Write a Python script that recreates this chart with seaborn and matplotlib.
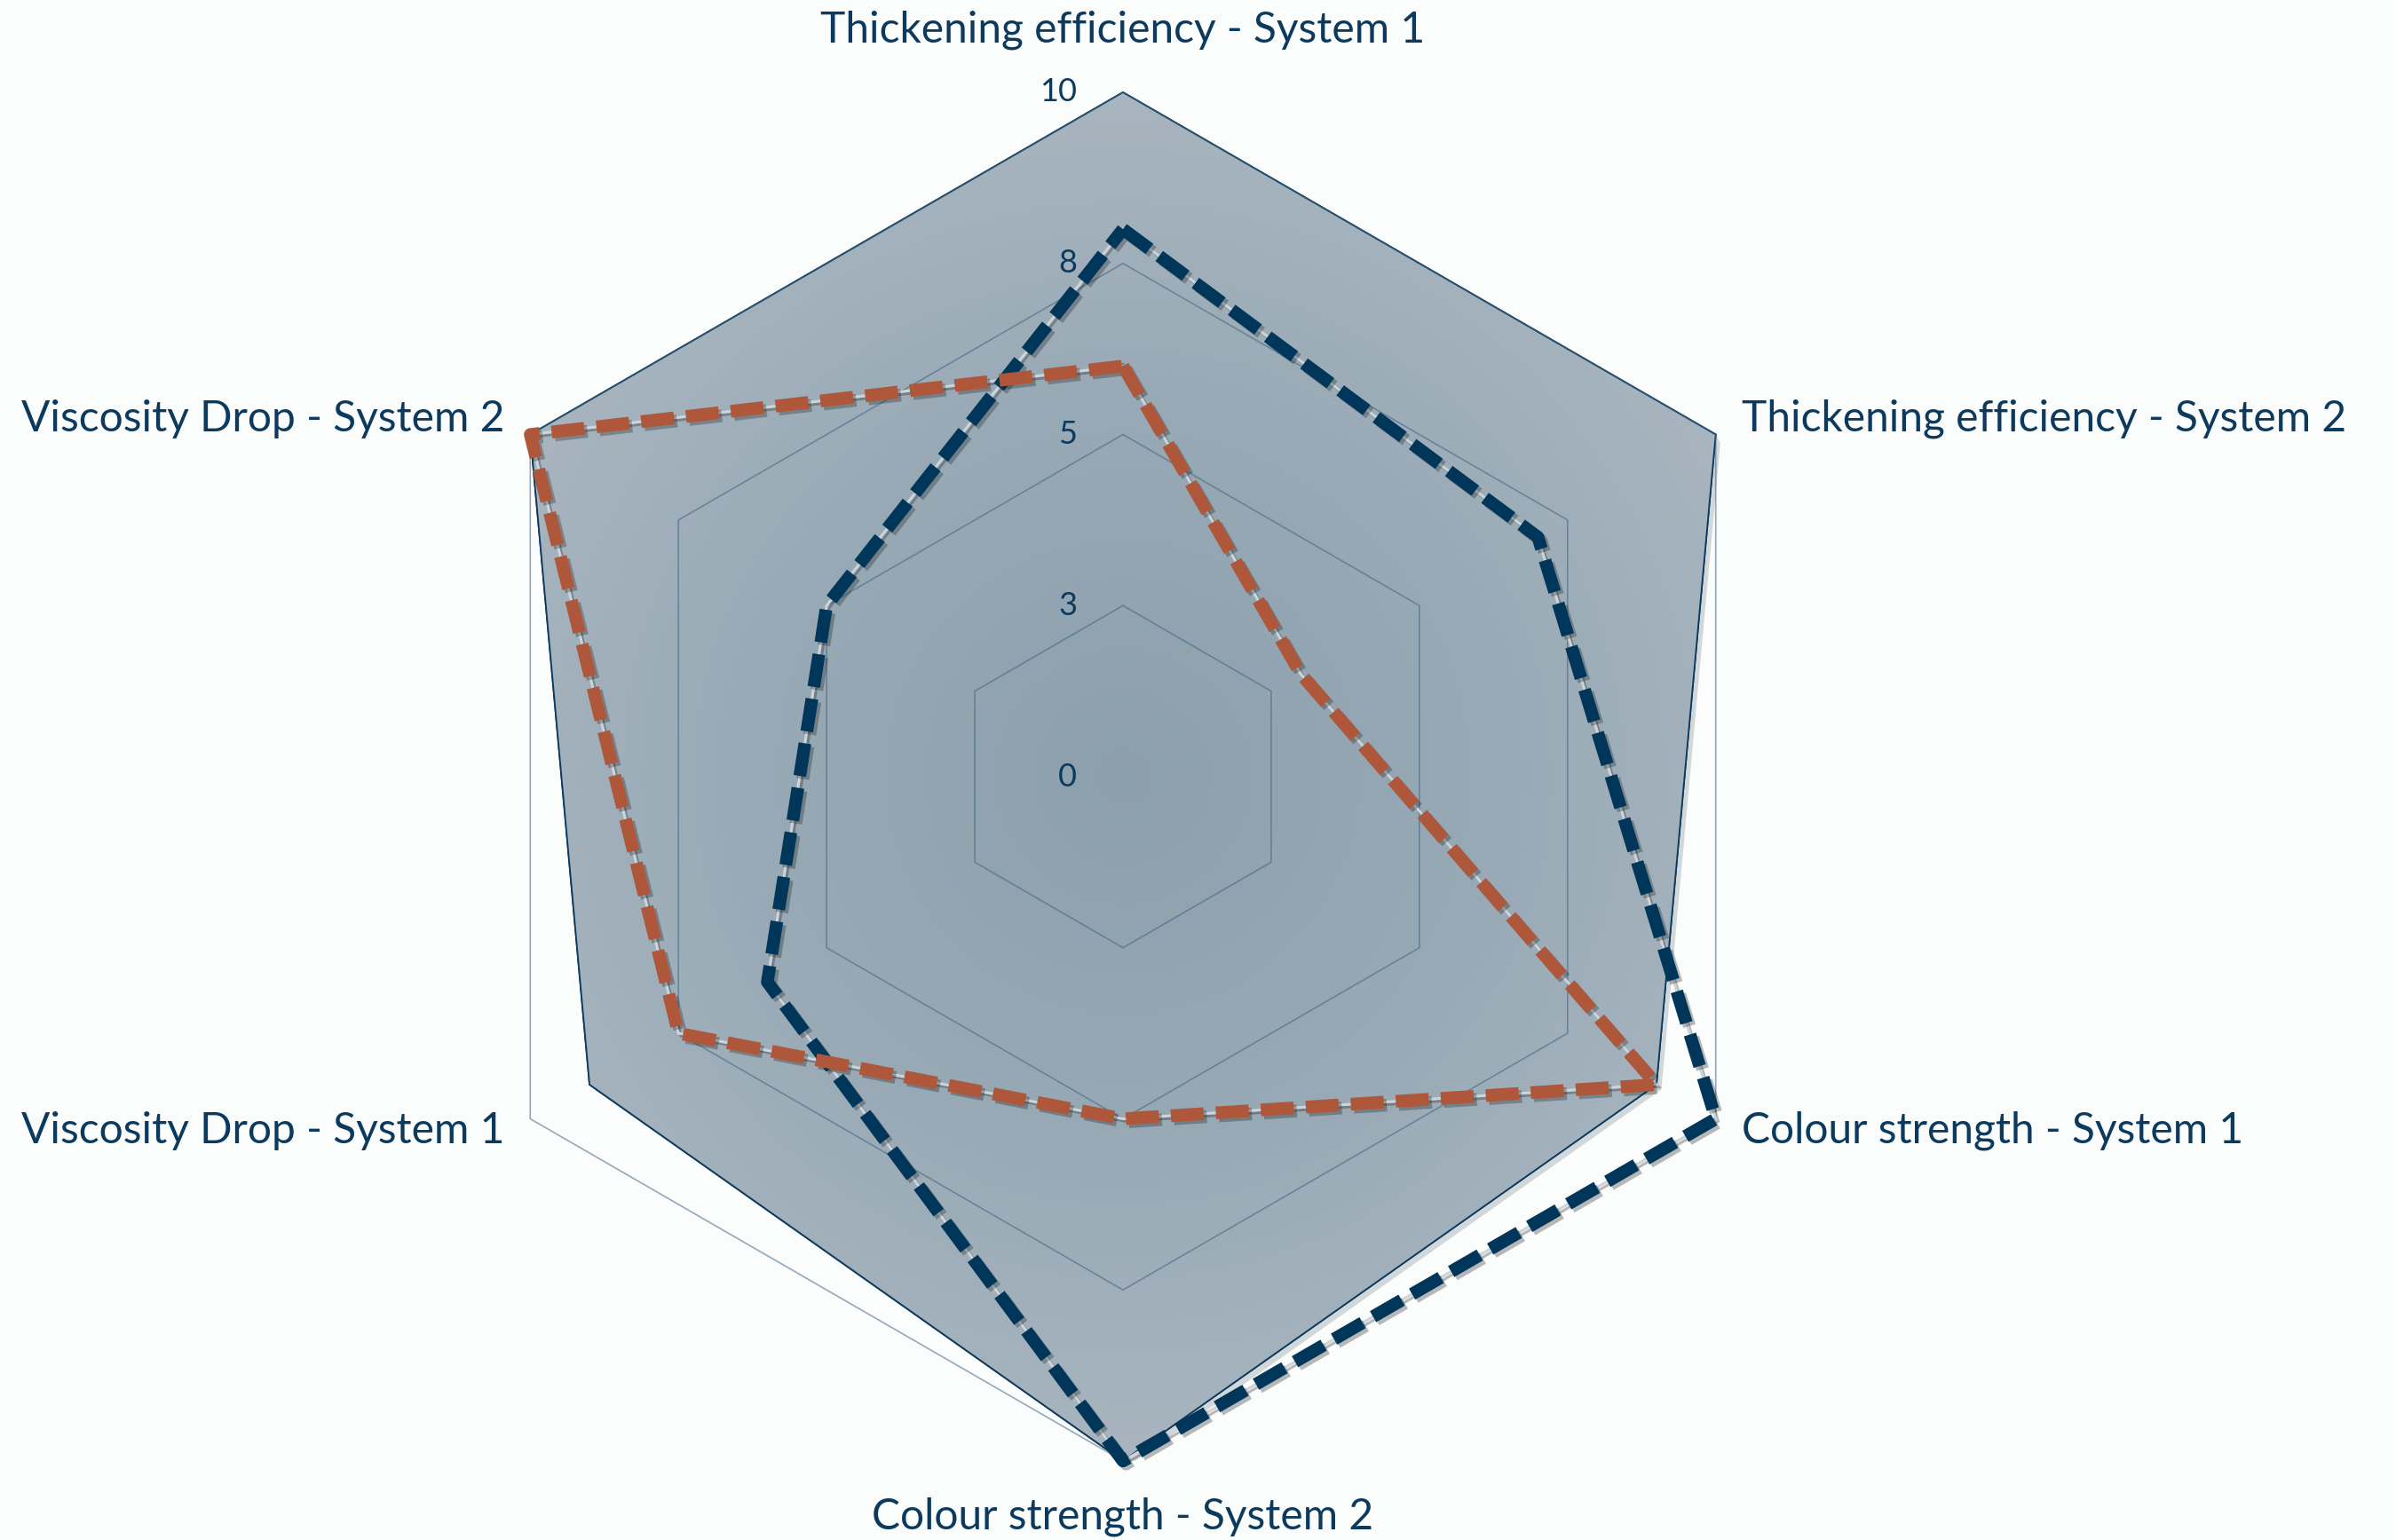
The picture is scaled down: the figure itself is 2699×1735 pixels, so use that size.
import numpy as np
import matplotlib
matplotlib.use("Agg")
import matplotlib.pyplot as plt
import matplotlib.patheffects as pe
from matplotlib.colors import LinearSegmentedColormap
import seaborn as sns

# ---------------- data ----------------
categories = [
    "Thickening efficiency - System 1",
    "Thickening efficiency - System 2",
    "Colour strength - System 1",
    "Colour strength - System 2",
    "Viscosity Drop - System 1",
    "Viscosity Drop - System 2",
]
reference_values = [10, 10, 9, 10, 9, 10]
navy_values = [8, 7, 10, 10, 6, 5]
orange_values = [6, 3, 9, 5, 7.5, 10]
ring_values = [2.5, 5, 7.5, 10]
tick_values = [0, 2.5, 5, 7.5, 10]
tick_labels = ["0", "3", "5", "8", "10"]

# ---------------- style ----------------
sns.set_theme(style="white")
plt.rcParams["font.family"] = ["Lato", "DejaVu Sans"]
TEXT = "#0b3a5e"
NAVY = "#003659"
ORANGE = "#ae573a"
BG = "#fbfcfc"

W, H = 2699, 1735
fig = plt.figure(figsize=(W / 100, H / 100), dpi=100, facecolor=BG)
cx, cy, R = 1265, 875, 771
ax = fig.add_axes([(cx - R) / W, (H - cy - R) / H, 2 * R / W, 2 * R / H],
                  projection="polar")
ax.set_theta_offset(np.pi / 2)
ax.set_theta_direction(-1)
ax.set_ylim(0, 10)
ax.grid(False)
ax.set_xticks([])
ax.set_yticks([])
ax.spines["polar"].set_visible(False)
ax.patch.set_alpha(0)

n = len(categories)
theta = np.linspace(0, 2 * np.pi, n, endpoint=False)
theta_c = np.append(theta, 2 * np.pi)


def closed(v):
    return np.append(np.asarray(v, float), v[0])


# reference area with radial gradient and drop shadow
shadow = ax.fill(theta_c, closed(reference_values), color="none", zorder=1,
                 edgecolor="none")[0]
shadow.set_path_effects([pe.SimplePatchShadow(offset=(4, -4), shadow_rgbFace="#5a6b78",
                                              alpha=0.25)])
poly = ax.fill(theta_c, closed(reference_values), facecolor="#a3b1bb",
               edgecolor="#0b3a5e", linewidth=1.3, zorder=2, clip_on=False)[0]
tg, rg = np.meshgrid(np.linspace(0, 2 * np.pi, 241), np.linspace(0, 10.5, 80))
cmap = LinearSegmentedColormap.from_list("rad", ["#8c9fac", "#97a9b5", "#aab6c0"])
mesh = ax.pcolormesh(tg, rg, rg[:-1, :-1], cmap=cmap, vmin=0, vmax=10.5,
                     shading="flat", zorder=2.1)
mesh.set_clip_path(poly)
ax.fill(theta_c, closed(reference_values), facecolor="none",
        edgecolor="#0b3a5e", linewidth=1.3, zorder=2.2, clip_on=False)

# hexagonal grid rings
for rv in ring_values:
    ax.plot(theta_c, [rv] * (n + 1), color="#3f6482", alpha=0.55,
            linewidth=1.2, zorder=2.5, clip_on=False)

# series
for vals, col in [(navy_values, NAVY), (orange_values, ORANGE)]:
    rr = closed(vals)
    ax.plot(theta_c, rr, color="#cdd5db", linewidth=2.2, zorder=3,
            solid_joinstyle="miter", clip_on=False,
            path_effects=[pe.SimpleLineShadow(offset=(2, -2), alpha=0.3),
                          pe.Normal()])
    sns.lineplot(x=theta_c, y=rr, sort=False, estimator=None, ax=ax,
                 color=col, linewidth=10.3, linestyle=(0, (2.6, 0.95)),
                 solid_joinstyle="miter", zorder=4, clip_on=False,
                 path_effects=[pe.SimpleLineShadow(offset=(2.5, -2.5), alpha=0.3),
                               pe.Normal()])
if ax.get_legend() is not None:
    ax.get_legend().remove()
ax.set_xlabel("")
ax.set_ylabel("")
ax.set_ylim(0, 10)

# tick labels
for tv, tl in zip(tick_values, tick_labels):
    ax.annotate(tl, xy=(0, tv), xytext=(-52, 0), textcoords="offset pixels",
                ha="right", va="center", fontsize=26, color=TEXT, zorder=6)

# category labels
offsets = [(0, 70, "center"), (29, 18, "left"), (29, -13, "left"),
           (0, -63, "center"), (-29, -13, "right"), (-29, 18, "right")]
for t, lab, (dx, dy, ha) in zip(theta, categories, offsets):
    ax.annotate(lab, xy=(t, 10), xytext=(dx, dy), textcoords="offset pixels",
                ha=ha, va="center", fontsize=34.5, color=TEXT,
                annotation_clip=False)

fig.savefig("out.png", dpi=100, facecolor=BG)
